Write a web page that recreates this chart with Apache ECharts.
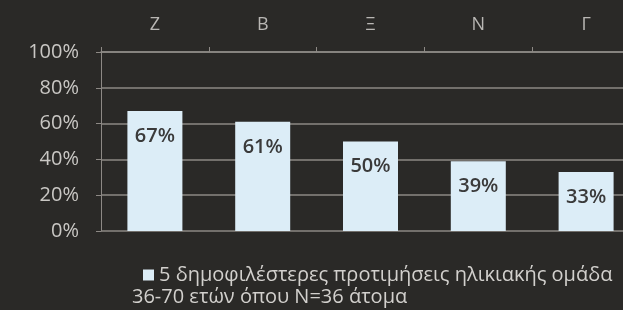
<!DOCTYPE html>
<html><head><meta charset="utf-8">
<script src="https://cdn.jsdelivr.net/npm/echarts@6/dist/echarts.min.js"></script>
<style>html,body{margin:0;padding:0;background:#2a2927;}#c{width:623px;height:310px;}</style>
</head><body><div id="c"></div>
<script>
const categories = ['Z', 'B', 'Ξ', 'N', 'Γ'];
const values = [67, 61, 50, 39, 33];
const yTicks = [0, 20, 40, 60, 80, 100];
const seriesName = '5 δημοφιλέστερες προτιμήσεις ηλικιακής ομάδα';
const seriesName2 = '36-70 ετών όπου N=36 άτομα';

const font = '"Open Sans", "Noto Sans", sans-serif';
const chart = echarts.init(document.getElementById('c'));
chart.setOption({
  backgroundColor: '#2a2927',
  animation: false,
  grid: {left: 101, top: 52, width: 539, height: 179, containLabel: false, outerBoundsMode: 'none'},
  xAxis: {
    type: 'category', data: categories, position: 'top',
    axisLine: {show: true, onZero: false, lineStyle: {color: '#8d8985', width: 1.5}},
    axisTick: {show: true, length: 5, lineStyle: {color: '#8d8985'}},
    axisLabel: {color: '#b9b7b4', fontFamily: font, fontSize: 18, margin: 18}
  },
  yAxis: {
    type: 'value', min: yTicks[0], max: yTicks[yTicks.length - 1], interval: 20,
    axisLine: {show: true, lineStyle: {color: '#8d8985', width: 1}},
    axisTick: {show: true, length: 5, lineStyle: {color: '#8d8985'}},
    splitLine: {show: true, lineStyle: {color: '#8d8985', width: 1.5}},
    axisLabel: {color: '#c9c7c4', fontFamily: font, fontSize: 20, margin: 22,
      formatter: v => v + '%'}
  },
  legend: {
    left: 138, top: 260, itemWidth: 11, itemHeight: 11, itemGap: 5,
    icon: 'rect',
    textStyle: {color: '#d2d0cd', fontFamily: font, fontSize: 20},
    data: [seriesName]
  },
  graphic: [{
    type: 'text', left: 132, top: 287,
    style: {text: seriesName2, fill: '#d2d0cd', font: '20px ' + font}
  }],
  series: [{
    type: 'bar', name: seriesName, data: values, barWidth: 55,
    itemStyle: {color: '#dcedf7'},
    label: {show: true, position: 'insideTop', distance: 15,
      formatter: p => p.value + '%', color: '#3a3a3a',
      fontFamily: font, fontSize: 20, fontWeight: 600}
  }]
});
</script></body></html>
